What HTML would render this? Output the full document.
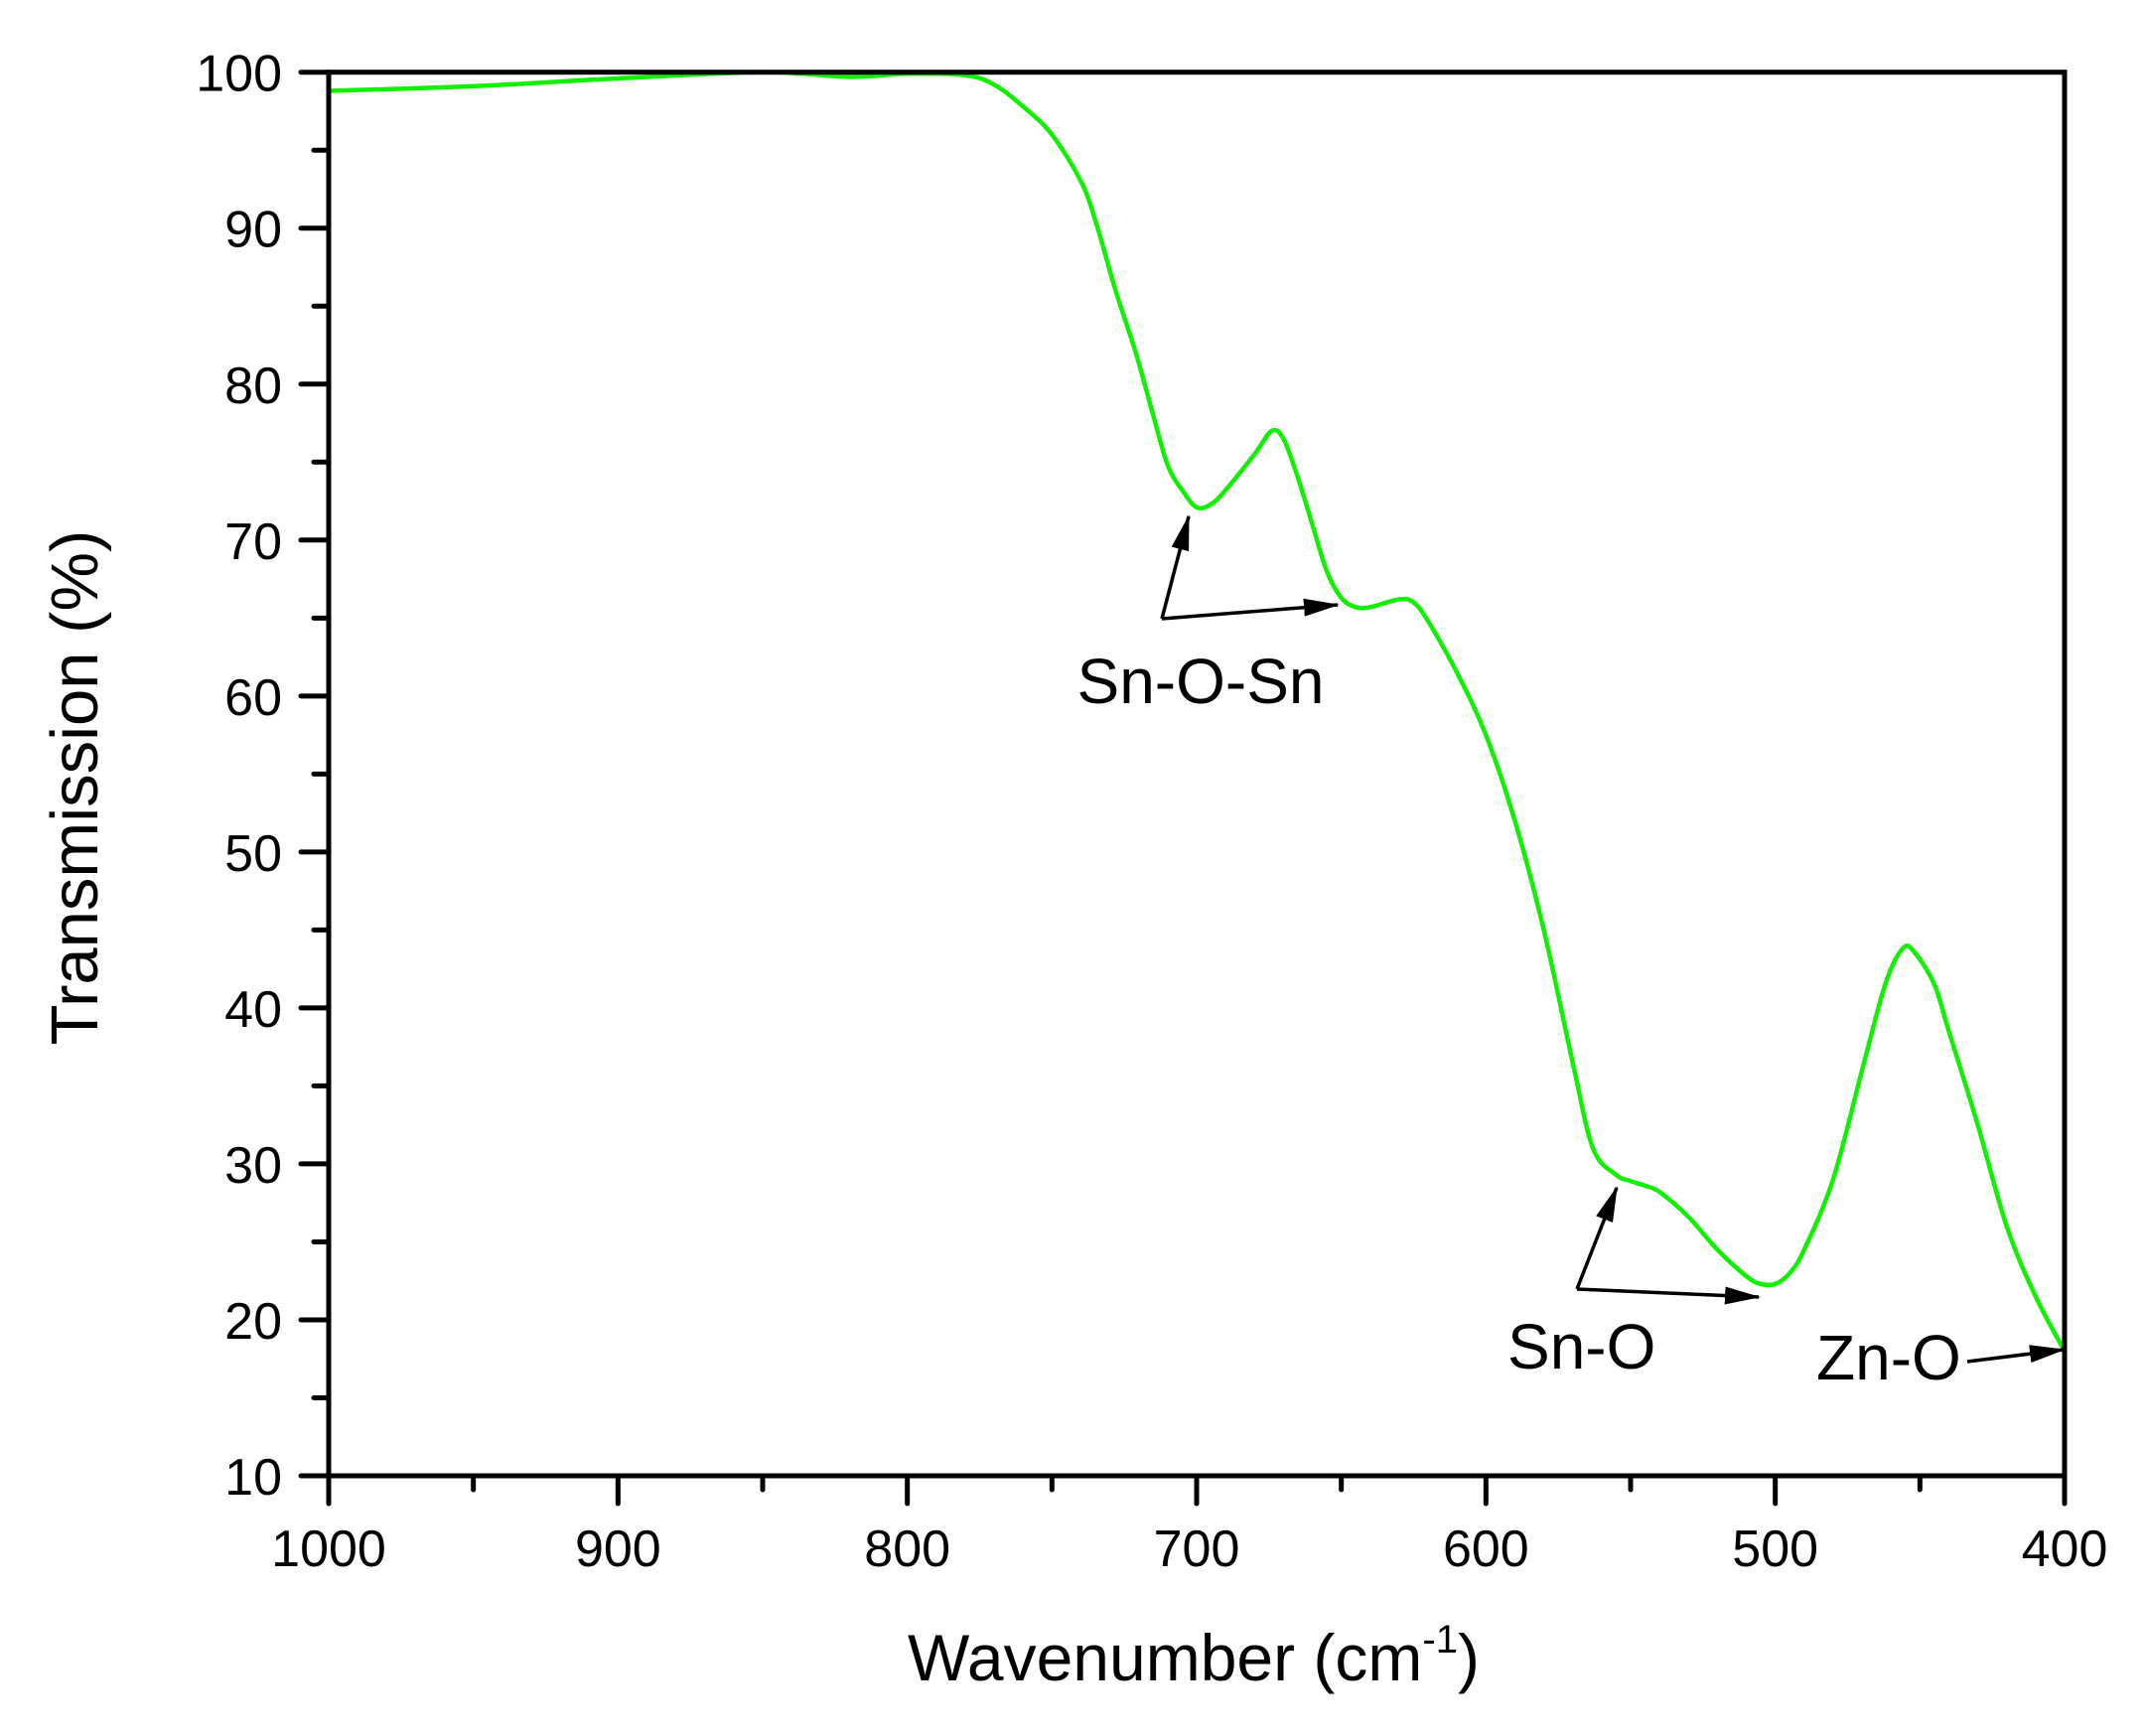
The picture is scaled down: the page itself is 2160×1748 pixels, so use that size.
<!DOCTYPE html>
<html><head><meta charset="utf-8"><style>
html,body{margin:0;padding:0;background:#fff;}
svg{display:block;font-family:"Liberation Sans",Arial,sans-serif;}
</style></head><body>
<svg id="chart" width="2160" height="1748" viewBox="0 0 2160 1748" xmlns="http://www.w3.org/2000/svg">
<defs><marker id="ah" markerWidth="36" markerHeight="18" refX="34" refY="9" orient="auto" markerUnits="userSpaceOnUse" viewBox="0 0 36 18"><path d="M0,0 L36,9 L0,18 Z" fill="#000"/></marker></defs>
<g id="plot"></g>
</svg>
<script>
const wavenumbers=[1000,950,900,850,820,800,780,770,760,750,740,735,728,721,715,710,705,700,695,690,680,674,670,665,660,655,650,645,640,630,625,620,610,600,590,580,570,563,555,550,545,540,530,520,510,505,500,495,490,480,470,462,456,452,445,440,430,420,410,400];
const transmission=[98.8,99.1,99.6,100,99.7,99.9,99.8,99.2,97.8,96,93,90.5,86,82,78,74.8,73.2,72.1,72.3,73.2,75.5,77,76.5,74,71,68,66.3,65.7,65.7,66.2,66,64.8,61.5,57.5,52,45,36.5,31,29.3,28.9,28.6,28.2,26.6,24.5,22.8,22.3,22.3,23,24.5,29,36,41.5,43.8,43.6,41.5,38.5,32.5,26,21.5,18];
const xTicks=[1000,900,800,700,600,500,400];
const yTicks=[10,20,30,40,50,60,70,80,90,100];
const L=331,R=2079,T=72.7,B=1486;
const xs=w=>L+(1000-w)/600*(R-L);
const ys=v=>B-(v-10)/90*(B-T);
const g=document.getElementById('plot');
const NS='http://www.w3.org/2000/svg';
function mk(tag,attrs,txt){const e=document.createElementNS(NS,tag);for(const k in attrs)e.setAttribute(k,attrs[k]);if(txt!==undefined)e.textContent=txt;g.appendChild(e);return e;}
const P=wavenumbers.map((w,i)=>[xs(w),ys(transmission[i])]);
let d='M'+P[0][0].toFixed(1)+','+P[0][1].toFixed(1);
for(let i=0;i<P.length-1;i++){const p0=P[Math.max(i-1,0)],p1=P[i],p2=P[i+1],p3=P[Math.min(i+2,P.length-1)];
const c1=[p1[0]+(p2[0]-p0[0])/6,p1[1]+(p2[1]-p0[1])/6],c2=[p2[0]-(p3[0]-p1[0])/6,p2[1]-(p3[1]-p1[1])/6];
d+='C'+c1[0].toFixed(1)+','+c1[1].toFixed(1)+' '+c2[0].toFixed(1)+','+c2[1].toFixed(1)+' '+p2[0].toFixed(1)+','+p2[1].toFixed(1);}
const curve=mk('path',{d:d,fill:'none',stroke:'#11f000','stroke-width':4.5,'stroke-linejoin':'round'});


const fr=mk('rect',{x:L,y:T,width:R-L,height:B-T,fill:'none',stroke:'#000','stroke-width':5});


for(let v=10;v<=100;v+=5){const maj=v%10===0;const t=mk('line',{x1:L-(maj?28:15),x2:L,y1:ys(v),y2:ys(v),stroke:'#000','stroke-width':5,'stroke-linecap':'round'});

}
yTicks.forEach(v=>{const t=mk('text',{x:284,y:ys(v)+19,'text-anchor':'end','font-size':52},String(v));

});
for(let w=1000;w>=400;w-=50){const maj=w%100===0;const t=mk('line',{x1:xs(w),x2:xs(w),y1:B,y2:B+(maj?28:14),stroke:'#000','stroke-width':5,'stroke-linecap':'round'});

}
xTicks.forEach(w=>{const t=mk('text',{x:xs(w),y:1577,'text-anchor':'middle','font-size':52},String(w));

});
const xt=mk('text',{x:1202,y:1692,'text-anchor':'middle','font-size':66});
xt.innerHTML='Wavenumber (cm<tspan dy="-28" font-size="40">-1</tspan><tspan dy="28">)</tspan>';


const yt=mk('text',{x:0,y:0,'text-anchor':'middle','font-size':67,transform:'translate(98,793) rotate(-90)'},'Transmission (%)');


const arrows=[[1170,623,1197,520],[1170,623,1347,609],[1588,1298,1628,1196],[1588,1298,1771,1306],[1981,1371,2078,1359]];
arrows.forEach(a=>{const l=mk('line',{x1:a[0],y1:a[1],x2:a[2],y2:a[3],stroke:'#000','stroke-width':3.5,'marker-end':'url(#ah)'});

});
const labels=[['Sn-O-Sn',1209,708,'middle'],['Sn-O',1518,1378,'start'],['Zn-O',1829,1389,'start']];
labels.forEach(s=>{const t=mk('text',{x:s[1],y:s[2],'text-anchor':s[3],'font-size':64},s[0]);

});
</script>
</body></html>
